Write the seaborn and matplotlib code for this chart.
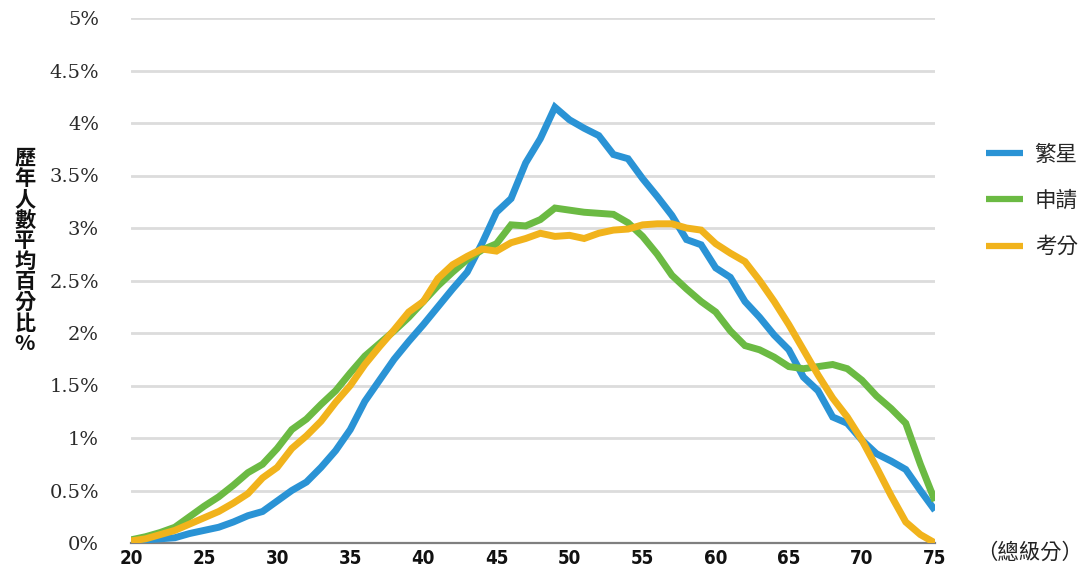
import matplotlib
matplotlib.use("Agg")
import matplotlib.pyplot as plt
import seaborn as sns
import pandas as pd
import numpy as np

scores = list(range(20, 76))
series_names = ["繁星", "申請", "考分"]

fanxing = [0.02, 0.03, 0.04, 0.05, 0.09, 0.12, 0.15, 0.20, 0.26, 0.30,
           0.40, 0.50, 0.58, 0.72, 0.88, 1.08, 1.35, 1.55, 1.75, 1.92,
           2.08, 2.25, 2.42, 2.58, 2.85, 3.15, 3.28, 3.62, 3.85, 4.15,
           4.03, 3.95, 3.88, 3.70, 3.66, 3.47, 3.30, 3.12, 2.89, 2.84,
           2.62, 2.53, 2.30, 2.15, 1.98, 1.84, 1.58, 1.45, 1.20, 1.14,
           0.98, 0.85, 0.78, 0.70, 0.50, 0.31]
shenqing = [0.03, 0.06, 0.10, 0.15, 0.25, 0.35, 0.44, 0.55, 0.67, 0.75,
            0.90, 1.08, 1.18, 1.32, 1.45, 1.62, 1.78, 1.90, 2.02, 2.15,
            2.30, 2.45, 2.58, 2.70, 2.79, 2.85, 3.03, 3.02, 3.08, 3.19,
            3.17, 3.15, 3.14, 3.13, 3.05, 2.92, 2.75, 2.55, 2.42, 2.30,
            2.20, 2.02, 1.88, 1.84, 1.77, 1.68, 1.66, 1.68, 1.70, 1.66,
            1.55, 1.40, 1.28, 1.14, 0.75, 0.40]
kaofen = [0.02, 0.04, 0.08, 0.12, 0.18, 0.24, 0.30, 0.38, 0.47, 0.62,
          0.72, 0.90, 1.02, 1.16, 1.34, 1.50, 1.70, 1.87, 2.03, 2.20,
          2.30, 2.52, 2.65, 2.73, 2.80, 2.78, 2.86, 2.90, 2.95, 2.92,
          2.93, 2.90, 2.95, 2.98, 2.99, 3.03, 3.04, 3.04, 3.00, 2.98,
          2.85, 2.76, 2.68, 2.50, 2.30, 2.08, 1.84, 1.60, 1.38, 1.20,
          0.98, 0.72, 0.45, 0.20, 0.08, 0.00]

x_ticks = list(range(20, 80, 5))
y_ticks = [0, 0.5, 1, 1.5, 2, 2.5, 3, 3.5, 4, 4.5, 5]
y_tick_labels = ["0%", "0.5%", "1%", "1.5%", "2%", "2.5%", "3%", "3.5%", "4%", "4.5%", "5%"]
y_label = "歷年人數平均百分比%"
x_unit = "（總級分）"

sns.set_style("white")
plt.rcParams["font.family"] = ["Noto Sans CJK TC", "DejaVu Sans"]

df = pd.DataFrame({
    "score": scores * 3,
    "pct": fanxing + shenqing + kaofen,
    "series": sum([[n] * len(scores) for n in series_names], []),
})

palette = {"繁星": "#2A93D5", "申請": "#6BBA43", "考分": "#F1B31C"}

fig = plt.figure(figsize=(10.83, 5.82), dpi=100)
ax = fig.add_axes([131 / 1083, 1 - 543 / 582, (935 - 131) / 1083, (543 - 18) / 582])

sns.lineplot(data=df, x="score", y="pct", hue="series", hue_order=series_names,
             palette=palette, linewidth=5.0, ax=ax, legend=True,
             solid_joinstyle="miter", solid_capstyle="butt")

ax.set_xlim(20, 75)
ax.set_ylim(0, 5)
ax.set_yticks(y_ticks)
ax.set_yticklabels(y_tick_labels, family="DejaVu Serif", fontsize=14, color="#2a2a2a")
ax.set_xticks(x_ticks)
ax.set_xticklabels([str(t) for t in x_ticks], family="DejaVu Sans", fontstretch="condensed",
                   fontweight="bold", fontsize=13.5, color="#111111")
ax.tick_params(axis="y", length=0, pad=23)
ax.tick_params(axis="x", length=0, pad=4)
ax.set_xlabel("")
ax.set_ylabel("")
for s in ["top", "right", "left"]:
    ax.spines[s].set_visible(False)
ax.spines["bottom"].set_color("#7f7f7f")
ax.spines["bottom"].set_linewidth(1.6)
ax.spines["bottom"].set_zorder(1)
for yv in y_ticks[1:]:
    ax.axhline(yv, color="#dcdcdc", linewidth=2.0, zorder=0)

handles, labels = ax.get_legend_handles_labels()
leg = ax.legend(handles, labels, loc="upper left", bbox_to_anchor=(977 / 1083, 1 - 135 / 582),
                bbox_transform=fig.transFigure, frameon=False, fontsize=15.5,
                handlelength=1.72, handletextpad=0.56, labelspacing=1.13, borderaxespad=0)
for h in leg.get_lines():
    h.set_linewidth(4.5)

fig.text(25 / 1083, 1 - 251 / 582, "\n".join(list(y_label)), ha="center", va="center",
         fontsize=15.3, fontweight="bold", linespacing=0.98, color="#111111",
         family=["Noto Sans CJK TC", "DejaVu Sans"])
fig.text(976 / 1083, 1 - 553 / 582, x_unit, ha="left", va="center", fontsize=15.4,
         color="#222222", family=["Noto Sans CJK TC", "DejaVu Sans"])

fig.savefig("out.png", dpi=100)
